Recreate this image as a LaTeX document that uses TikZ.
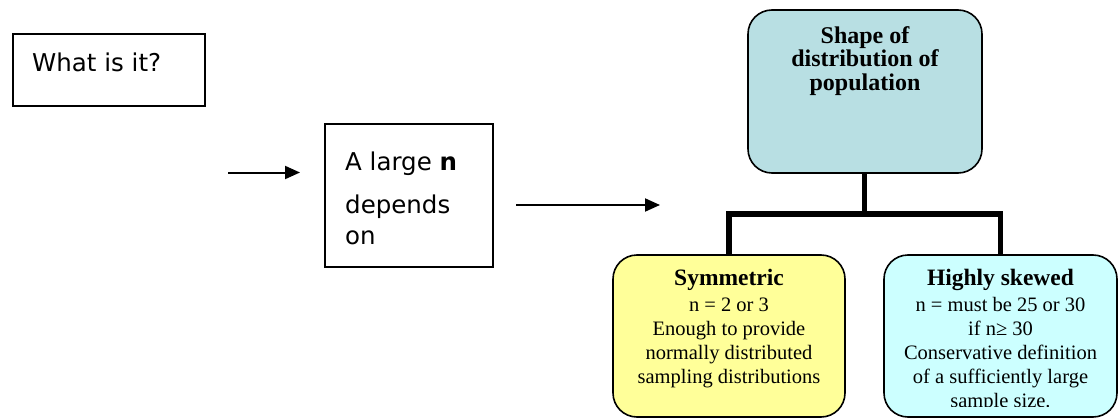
\documentclass[tikz,border=0pt]{standalone}
\usepackage{fontspec}
\setmainfont{Liberation Serif}
\newfontfamily\uisans{DejaVu Sans}
\usetikzlibrary{arrows.meta}
\definecolor{popblue}{RGB}{184,223,227}
\definecolor{symyellow}{RGB}{255,255,153}
\definecolor{skewcyan}{RGB}{204,255,255}
\tikzset{
  plainbox/.style={draw, line width=1.8pt, inner sep=0pt, outer sep=0pt},
  roundbox/.style={draw, line width=1.6pt, rounded corners=24pt, inner sep=0pt, outer sep=0pt},
  flowarrow/.style={line width=2pt, -{Triangle[length=15pt,width=13pt]}},
  tree/.style={line width=5.5pt, line join=miter},
  sanstext/.style={font=\uisans\fontsize{24.5}{31}\selectfont},
  bodytext/.style={align=center, font=\fontsize{20.5}{24}\selectfont}
}
\begin{document}
\begin{tikzpicture}[x=1pt, y=-1pt]
  \useasboundingbox (0,0) rectangle (1119,420);

  % plain boxes (multi-line texts are anchored on their last baseline)
  \node[plainbox, minimum width=192pt, minimum height=72pt] (what) at (109,70) {};
  \node[sanstext, anchor=base west, inner sep=0pt] (whattext) at (32,72) {What is it?};

  \node[plainbox, minimum width=168pt, minimum height=143pt] (large) at (409,195.5) {};
  \node[sanstext, anchor=base west, align=left, inner sep=0pt] (largetext) at (345,244)
    {A large \textbf{n}\\[12pt]depends\\on};

  % arrows
  \coordinate (a1s) at (228,172.5);
  \coordinate (a1e) at (300,172.5);
  \draw[flowarrow] (a1s) -- (a1e);
  \coordinate (a2s) at (516,205);
  \coordinate (a2e) at (660,205);
  \draw[flowarrow] (a2s) -- (a2e);

  % population box
  \node[roundbox, fill=popblue, minimum width=234pt, minimum height=163pt] (pop) at (865,91.5) {};
  \node[anchor=base, align=center, font=\bfseries\fontsize{24}{23.5}\selectfont] (poptext) at (865,90)
    {Shape of\\distribution of\\population};

  % lower boxes
  \node[roundbox, fill=symyellow, minimum width=232pt, minimum height=162pt] (sym) at (729,336) {};
  \node[bodytext, anchor=base] (symtext) at (729,383)
    {{\bfseries\fontsize{23.5}{24}\selectfont Symmetric}\\[2pt]n = 2 or 3\\Enough to provide\\normally distributed\\sampling distributions};

  \node[roundbox, fill=skewcyan, minimum width=233pt, minimum height=162pt] (skew) at (1000.5,336) {};
  \begin{scope}
    % the text frame is shorter than the box, so the last line is cut
    \clip (884,257) rectangle (1117,406.5);
    \node[bodytext, anchor=base] (skewtext) at (1000.5,407)
      {{\bfseries\fontsize{23.5}{24}\selectfont Highly skewed}\\[2pt]n = must be 25 or 30\\if n≥ 30\\Conservative definition\\of a sufficiently large\\sample size.};
  \end{scope}

  % tree connectors
  \coordinate (j) at (864.5,214);
  \coordinate (jl) at (729,214);
  \coordinate (jr) at (1000.5,214);
  \draw[tree] (pop.south -| j) -- (j);
  \draw[tree] (sym.north -| jl) -- (jl) -- (jr) -- (skew.north -| jr);
\end{tikzpicture}
\end{document}
